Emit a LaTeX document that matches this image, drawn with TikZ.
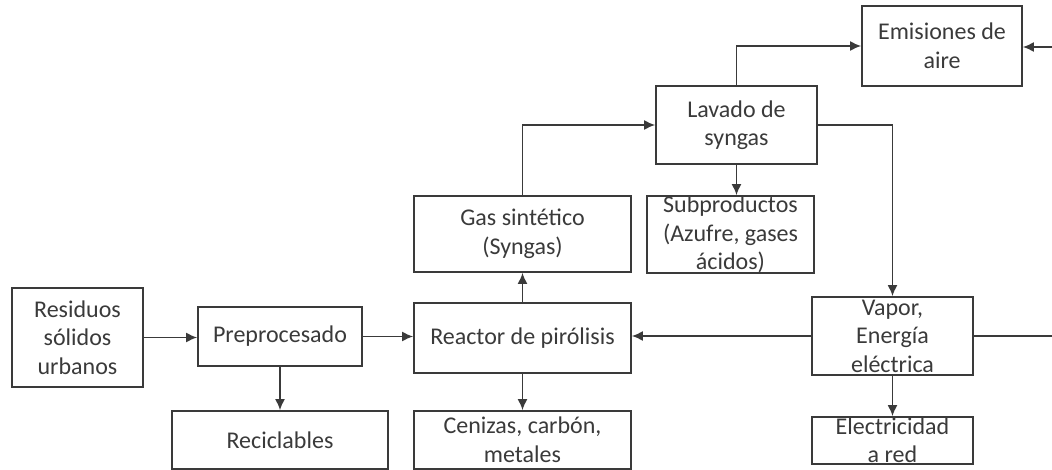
\documentclass[tikz,border=0pt]{standalone}
\usepackage{fontspec}
\setmainfont{Carlito}
\usetikzlibrary{arrows.meta}
\definecolor{ink}{HTML}{3A3A3A}
\begin{document}
\begin{tikzpicture}[x=1pt,y=-1pt,
  box/.style={draw=ink, line width=1.7pt, rectangle, inner sep=0pt, align=center,
    text=ink, font=\fontsize{24}{28.5}\selectfont},
  conn/.style={draw=ink, line width=1.7pt},
  arr/.style={conn, -{Latex[length=11pt,width=10pt]}}]
\useasboundingbox (0,0) rectangle (1052,470);
\node[box, minimum width=131pt, minimum height=99pt] (res) at (77.5,337.5) {Residuos\\sólidos\\urbanos};
\node[box, minimum width=164pt, minimum height=59pt] (pre) at (280,336.5) {Preprocesado};
\node[box, minimum width=216pt, minimum height=58pt] (rec) at (280,440) {Reciclables};
\node[box, minimum width=217pt, minimum height=70pt] (rea) at (522.5,338) {Reactor de pirólisis};
\node[box, minimum width=217pt, minimum height=76pt] (gas) at (522.5,234) {Gas sintético\\(Syngas)};
\node[box, minimum width=217pt, minimum height=58pt] (cen) at (522.5,440) {Cenizas, carbón,\\metales};
\node[box, minimum width=167pt, minimum height=77pt] (sub) at (730.5,234.5) {Subproductos\\(Azufre, gases\\ácidos)};
\node[box, minimum width=161pt, minimum height=78pt] (lav) at (736.5,125) {Lavado de\\syngas};
\node[box, minimum width=160pt, minimum height=80pt] (emi) at (942,46) {Emisiones de\\aire};
\node[box, minimum width=161pt, minimum height=78pt] (vap) at (892.5,336) {Vapor,\\Energía\\eléctrica};
\node[box, minimum width=161pt, minimum height=47pt] (ele) at (892.5,440.5) {Electricidad\\a red};
\coordinate (edgeA) at (1052,336);
\coordinate (edgeB) at (1052,47);
\draw[arr] (res.east) -- (res.east -| pre.west);
\draw[arr] (pre.east) -- (pre.east -| rea.west);
\draw[arr] (pre.south) -- (rec.north);
\draw[arr] (rea.north) -- (gas.south);
\draw[arr] (rea.south) -- (cen.north);
\draw[arr] (gas.north) |- (lav.west);
\draw[arr] (lav.south) -- (lav.south |- sub.north);
\draw[arr] (lav.north) |- (emi.west);
\draw[arr] (lav.east) -| (vap.north);
\draw[arr] (vap.west) -- (vap.west -| rea.east);
\draw[arr] (vap.south) -- (ele.north);
\draw[conn] (vap.east) -- (edgeA);
\draw[arr] (edgeB) -- (edgeB -| emi.east);
\end{tikzpicture}
\end{document}
